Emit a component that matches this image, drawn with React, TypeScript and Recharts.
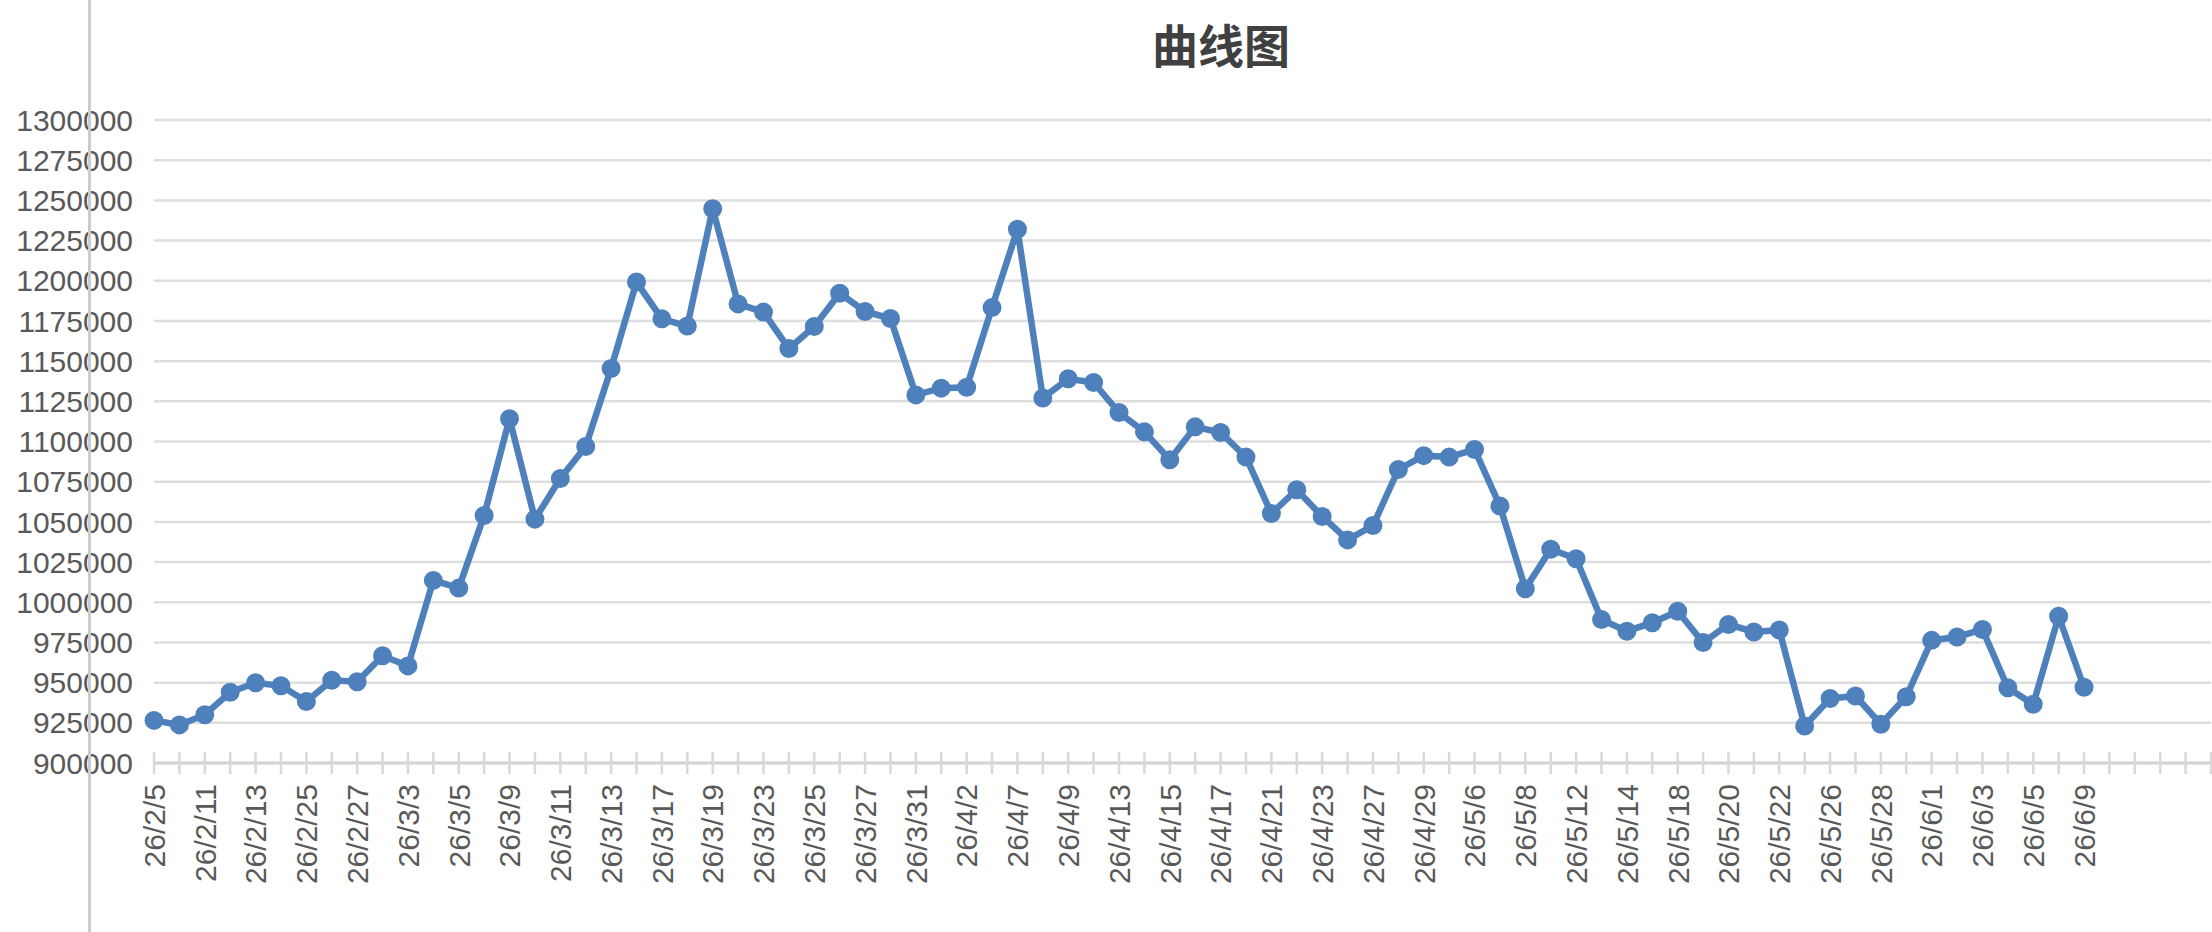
import { LineChart, Line, XAxis, YAxis, CartesianGrid } from 'recharts';

const title = '曲线图';

// trading dates (only every other one is labelled on the axis)
const dates = [
  '26/2/5', '26/2/10', '26/2/11', '26/2/12', '26/2/13', '26/2/24', '26/2/25', '26/2/26',
  '26/2/27', '26/3/2', '26/3/3', '26/3/4', '26/3/5', '26/3/6', '26/3/9', '26/3/10',
  '26/3/11', '26/3/12', '26/3/13', '26/3/16', '26/3/17', '26/3/18', '26/3/19', '26/3/20',
  '26/3/23', '26/3/24', '26/3/25', '26/3/26', '26/3/27', '26/3/30', '26/3/31', '26/4/1',
  '26/4/2', '26/4/3', '26/4/7', '26/4/8', '26/4/9', '26/4/10', '26/4/13', '26/4/14',
  '26/4/15', '26/4/16', '26/4/17', '26/4/20', '26/4/21', '26/4/22', '26/4/23', '26/4/24',
  '26/4/27', '26/4/28', '26/4/29', '26/4/30', '26/5/6', '26/5/7', '26/5/8', '26/5/11',
  '26/5/12', '26/5/13', '26/5/14', '26/5/15', '26/5/18', '26/5/19', '26/5/20', '26/5/21',
  '26/5/22', '26/5/25', '26/5/26', '26/5/27', '26/5/28', '26/5/29', '26/6/1', '26/6/2',
  '26/6/3', '26/6/4', '26/6/5', '26/6/8', '26/6/9',
];

const values = [
  926500, 923700, 930000, 944000, 949900, 948000, 938200, 951500,
  950600, 966700, 960400, 1013600, 1008800, 1054000, 1114200, 1051700,
  1077000, 1096900, 1145400, 1199200, 1176300, 1171800, 1244800, 1185600,
  1180500, 1157800, 1171600, 1192200, 1180900, 1176500, 1129000, 1133200,
  1133700, 1183300, 1232000, 1127100, 1139000, 1136700, 1118000, 1106000,
  1088700, 1109100, 1105600, 1090300, 1055200, 1070000, 1053400, 1038800,
  1047700, 1082600, 1091200, 1090300, 1095000, 1059900, 1008400, 1033000,
  1027100, 989200, 982000, 987300, 994400, 974900, 986200, 981500,
  982700, 923000, 940100, 941700, 924100, 941200, 976300, 978400,
  983100, 946800, 936500, 991300, 947100,
];

// empty slots the axis keeps running into on the right
const emptySlots = ['', '', '', '', ''];

const yTicks = [
  900000, 925000, 950000, 975000, 1000000, 1025000, 1050000, 1075000, 1100000,
  1125000, 1150000, 1175000, 1200000, 1225000, 1250000, 1275000, 1300000,
];

const data = [
  ...dates.map((d, i) => ({ date: d, value: values[i] })),
  ...emptySlots.map((d) => ({ date: d, value: null })),
];

const blue = '#4e80bc';
const textGray = '#595959';
const font = '"Liberation Sans", Arial, Helvetica, sans-serif';

function DateTick(props: any) {
  const { x, y, payload } = props;
  const i = props.index ?? payload?.index ?? 0;
  return (
    <g>
      <line x1={x} x2={x} y1={y - 11} y2={y + 11} stroke="#d9d9d9" strokeWidth={2.5} />
      {i % 2 === 0 && payload.value !== '' && (
        <text
          x={x}
          y={y + 21}
          dy="0.36em"
          transform={`rotate(-90, ${x}, ${y + 21})`}
          textAnchor="end"
          fill={textGray}
          fontSize={30}
          fontFamily={font}
        >
          {payload.value}
        </text>
      )}
    </g>
  );
}

export default function App() {
  return (
    <div style={{ position: 'absolute', left: 0, top: 0, width: 2212, height: 932, overflow: 'hidden', background: '#fff' }}>
      <div
        style={{
          position: 'absolute',
          left: 1221,
          top: 43,
          transform: 'translate(-50%, -50%)',
          fontFamily: '"Noto Sans CJK SC", sans-serif',
          fontWeight: 'bold',
          fontSize: 46,
          lineHeight: 1,
          color: '#404040',
          whiteSpace: 'nowrap',
        }}
      >
        {title}
      </div>
      <LineChart width={2212} height={932} data={data} margin={{ top: 120, right: 1, left: 0, bottom: 0 }}>
        <CartesianGrid horizontal vertical={false} stroke="#dedede" strokeWidth={2.5} />
        <XAxis
          dataKey="date"
          interval={0}
          height={169}
          tickSize={0}
          tickMargin={0}
          axisLine={{ stroke: '#d4d4d4', strokeWidth: 3 }}
          tickLine={false}
          tick={<DateTick />}
        />
        <YAxis
          domain={[900000, 1300000]}
          ticks={yTicks}
          width={154}
          tickSize={0}
          tickMargin={21}
          axisLine={false}
          tickLine={false}
          tick={{ fill: textGray, fontSize: 30, fontFamily: font }}
          interval={0}
        />
        <Line
          type="linear"
          dataKey="value"
          stroke={blue}
          strokeWidth={6.5}
          dot={{ r: 8.5, fill: blue, stroke: blue, strokeWidth: 2 }}
          activeDot={false}
          isAnimationActive={false}
        />
      </LineChart>
      <div style={{ position: 'absolute', left: 88, top: 0, width: 3, height: 932, background: '#cccccc' }} />
    </div>
  );
}
